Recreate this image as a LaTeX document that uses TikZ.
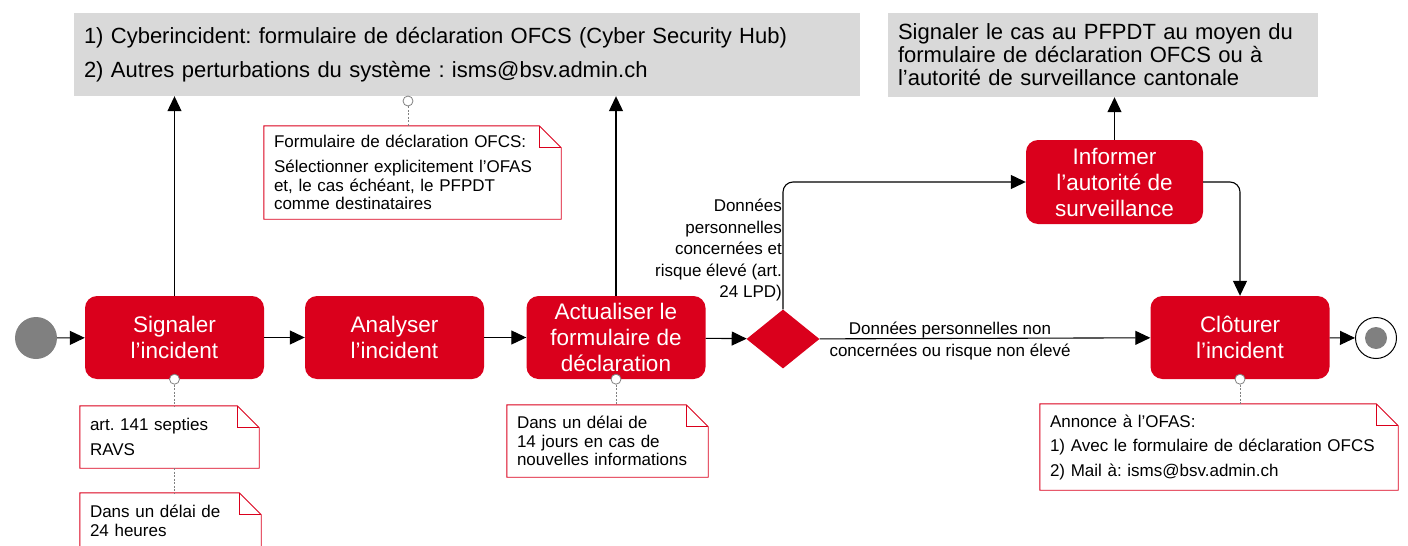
\documentclass[tikz,border=0pt]{standalone}
\usepackage{fontspec}
\setmainfont{Liberation Sans}[Ligatures=Common]
\usetikzlibrary{arrows.meta,shapes.geometric}
\definecolor{bred}{RGB}{218,0,28}
\definecolor{bgray}{RGB}{217,217,217}
\definecolor{dgray}{RGB}{128,128,128}
\frenchspacing
\begin{document}
\begin{tikzpicture}[x=1pt,y=-1pt,
 task/.style={rectangle,rounded corners=12pt,fill=bred,text=white,minimum width=179pt,minimum height=83pt,align=center,font=\fontsize{22.5}{26}\selectfont,inner sep=2pt},
 info/.style 2 args={rectangle,fill=bgray,align=left,font=\fontsize{22}{23}\selectfont,inner xsep=10pt,inner ysep=0pt,text width=#1-20pt,minimum width=#1,minimum height=#2},
 flow/.style={draw=black,line width=1.1pt,-{Triangle[length=15pt,width=14pt]}},
 notebox/.style 2 args={rectangle,align=left,font=\fontsize{17}{18.5}\selectfont,inner xsep=10pt,inner ysep=0pt,text width=#1-20pt,minimum width=#1,minimum height=#2},
 noteline/.style={draw=bred,line width=0.9pt},
 assoc/.style={draw=dgray,dash pattern=on 2pt off 1.5pt,line width=0.8pt},
 anchorpt/.style={circle,draw=dgray,fill=white,minimum size=10pt,inner sep=0pt,line width=0.8pt},
 lbl/.style={font=\fontsize{17}{21.5}\selectfont,inner sep=0pt}
]
\useasboundingbox (0,0) rectangle (1408,546);
\clip (0,0) rectangle (1408,546);

% information boxes
\node[info={786pt}{83pt}] (info1) at (467,54.5) {1) Cyberincident: formulaire de déclaration OFCS (Cyber Security Hub)\\[11pt]2) Autres perturbations du système : isms@bsv.admin.ch};
\node[info={430pt}{84pt}] (info2) at (1103,55) {Signaler le cas au PFPDT au moyen du\\formulaire de déclaration OFCS ou à\\l'autorité de surveillance cantonale};

% events
\node[circle,fill=dgray,minimum size=42pt,inner sep=0pt] (start) at (36,338) {};
\node[circle,draw=black,line width=1pt,fill=white,minimum size=41pt,inner sep=0pt] (end) at (1376,338) {};
\node[circle,fill=dgray,minimum size=22pt,inner sep=0pt] (endin) at (end.center) {};

% tasks
\node[task] (sig) at (174.5,337.5) {Signaler\\l’incident};
\node[task] (ana) at (394.5,337.5) {Analyser\\l’incident};
\node[task] (act) at (616,337.5) {Actualiser le\\formulaire de\\déclaration};
\node[task] (clo) at (1240,337.5) {Clôturer\\l’incident};
\node[task,minimum width=177pt,minimum height=84pt] (inf) at (1114.5,182) {Informer\\l’autorité de\\surveillance};
\node[diamond,fill=bred,minimum width=73pt,minimum height=59pt,inner sep=0pt] (dec) at (783,339) {};

% flows
\draw[flow] (start) -- (sig);
\draw[flow] (sig) -- (ana);
\draw[flow] (ana) -- (act);
\draw[flow] (act) -- (dec);
\draw[flow] (dec) -- (clo);
\draw[flow] (clo) -- (end);
\draw[flow] (sig.north) -- (sig.north |- info1.south);
\draw[flow] (act.north) -- (act.north |- info1.south);
\draw[flow,rounded corners=10pt] (dec.north) |- (inf.west);
\draw[flow] (inf.north) -- (inf.north |- info2.south);
\draw[flow,rounded corners=10pt] (inf.east) -| (clo.north);

% flow labels
\node[lbl,align=center] (lyes) at (950,341) {Données personnelles non\\concernées ou risque non élevé};
\node[lbl,align=right,anchor=east] (lno) at (782,250) {Données\\personnelles\\concernées et\\risque élevé (art.\\24 LPD)};

% annotations
\node[notebox={179pt}{62pt}] (n1) at (169.5,437) {art. 141 septies\\[7pt]RAVS};
\node[notebox={181pt}{56pt}] (n2) at (170.5,521) {Dans un délai de\\24 heures};
\node[notebox={297pt}{93pt}] (n3) at (412.5,172.5) {Formulaire de déclaration OFCS:\\[7pt]Sélectionner explicitement l’OFAS\\et, le cas échéant, le PFPDT\\comme destinataires};
\node[notebox={201pt}{72pt}] (n4) at (607.5,441) {Dans un délai de\\14 jours en cas de\\nouvelles informations};
\node[notebox={358pt}{86pt}] (n5) at (1219,447) {Annonce à l’OFAS:\\[6pt]1) Avec le formulaire de déclaration OFCS\\[6pt]2) Mail à: isms@bsv.admin.ch};

\foreach \n in {n1,n2,n3,n4,n5}{
 \draw[noteline] (\n.north west) -- ([xshift=-22pt]\n.north east) -- ([yshift=-22pt]\n.north east) -- (\n.south east) -- (\n.south west) -- cycle;
 \draw[noteline] ([xshift=-22pt]\n.north east) -- ([xshift=-22pt,yshift=-22pt]\n.north east) -- ([yshift=-22pt]\n.north east);
}

% association anchors
\node[anchorpt] (c1) at (sig.south) {};
\node[anchorpt] (c3) at (408,101) {};
\node[anchorpt] (c4) at (act.south) {};
\node[anchorpt] (c5) at (clo.south) {};
\draw[assoc] (c1.south) -- (c1.south |- n1.north);
\draw[assoc] (n1.south -| c1) -- (n2.north -| c1);
\draw[assoc] (c3.south) -- (c3.south |- n3.north);
\draw[assoc] (c4.south) -- (c4.south |- n4.north);
\draw[assoc] (c5.south) -- (c5.south |- n5.north);
\end{tikzpicture}
\end{document}
